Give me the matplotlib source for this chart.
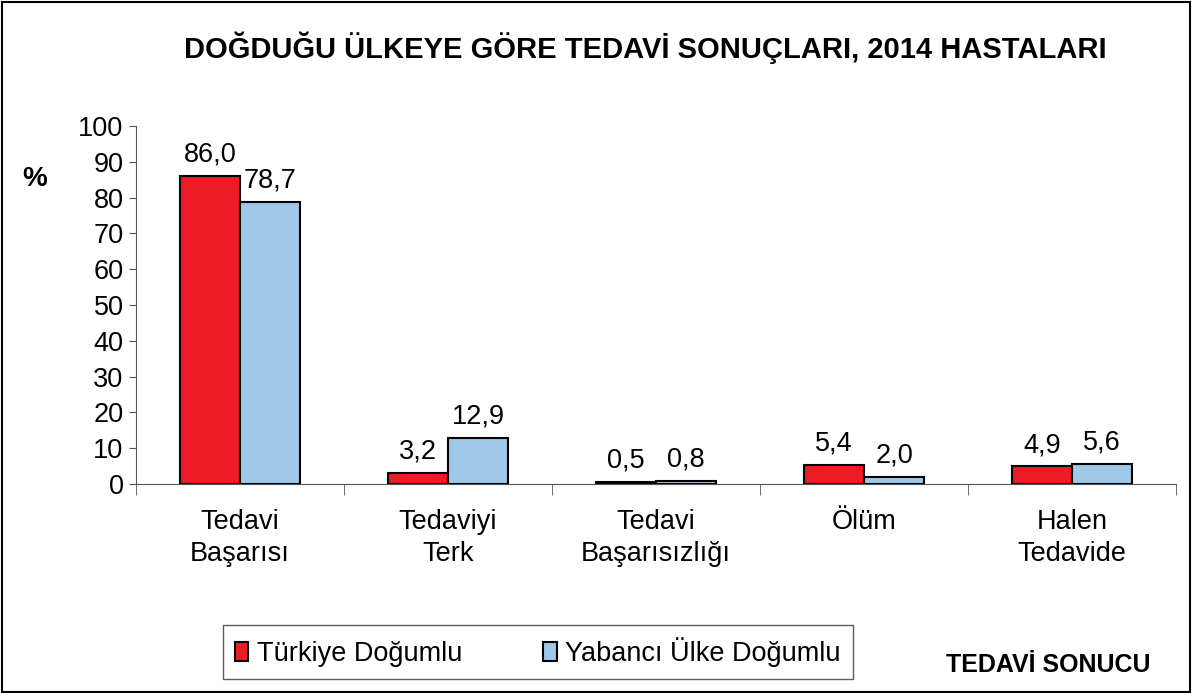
import numpy as np
import matplotlib.pyplot as plt
from matplotlib.patches import Rectangle

plt.rcParams['font.family'] = ['Liberation Sans', 'DejaVu Sans']

categories = ['Tedavi\nBaşarısı', 'Tedaviyi\nTerk', 'Tedavi\nBaşarısızlığı', 'Ölüm', 'Halen\nTedavide']
turkiye = [86.0, 3.2, 0.5, 5.4, 4.9]
yabanci = [78.7, 12.9, 0.8, 2.0, 5.6]
series_names = ['Türkiye Doğumlu', 'Yabancı Ülke Doğumlu']
yticks = list(range(0, 101, 10))

red = '#ED1C24'
blue = '#9FC7E8'
fs = 19.5

fig = plt.figure(figsize=(11.92, 6.93), dpi=100)
ax = fig.add_axes([0.1141, 0.3016, 0.8725, 0.5166])

x = np.arange(len(categories))
w = 0.29
b1 = ax.bar(x - w / 2, turkiye, w, color=red, edgecolor='black', linewidth=1.5, label=series_names[0])
b2 = ax.bar(x + w / 2, yabanci, w, color=blue, edgecolor='black', linewidth=1.5, label=series_names[1])

for bars, vals in ((b1, turkiye), (b2, yabanci)):
    for r, v in zip(bars, vals):
        ax.annotate(f'{v:.1f}'.replace('.', ','), (r.get_x() + r.get_width() / 2, v),
                    xytext=(0, 6), textcoords='offset points', ha='center', va='bottom', fontsize=fs)

ax.set_xlim(-0.5, len(categories) - 0.5)
ax.set_ylim(0, 100)
ax.set_yticks(yticks)
ax.tick_params(axis='y', labelsize=fs, length=5, color='#555555', pad=4)

# category labels centred, boundary ticks between groups
ax.set_xticks(x)
ax.set_xticklabels(categories, fontsize=fs, linespacing=1.28)
ax.tick_params(axis='x', which='major', length=0, pad=18)
ax.set_xticks(np.arange(-0.5, len(categories)), minor=True)
ax.tick_params(axis='x', which='minor', length=8, color='#555555', direction='out')

for s in ('top', 'right'):
    ax.spines[s].set_visible(False)
ax.spines['left'].set_color('#555555')
ax.spines['bottom'].set_color('#555555')

fig.text(0.541, 0.931, 'DOĞDUĞU ÜLKEYE GÖRE TEDAVİ SONUÇLARI, 2014 HASTALARI',
         ha='center', va='center', fontsize=21, fontweight='bold')
fig.text(0.029, 0.742, '%', fontsize=20, fontweight='bold', ha='center', va='center')
fig.text(0.879, 0.040, 'TEDAVİ SONUCU', fontsize=18, fontweight='bold', ha='center', va='center')

leg = fig.legend(loc='center', bbox_to_anchor=(0.451, 0.059), ncol=2, fontsize=fs,
                 frameon=True, fancybox=False, edgecolor='#333333', handlelength=0.5,
                 handleheight=0.7, columnspacing=3.0, borderpad=0.45, handletextpad=0.3,
                 borderaxespad=0)
leg.get_frame().set_linewidth(1.0)

# outer border of the chart
fig.patches.append(Rectangle((0.002, 0.002), 0.996, 0.995, transform=fig.transFigure,
                             fill=False, edgecolor='black', linewidth=1.5))

fig.savefig('out.png', dpi=100)
